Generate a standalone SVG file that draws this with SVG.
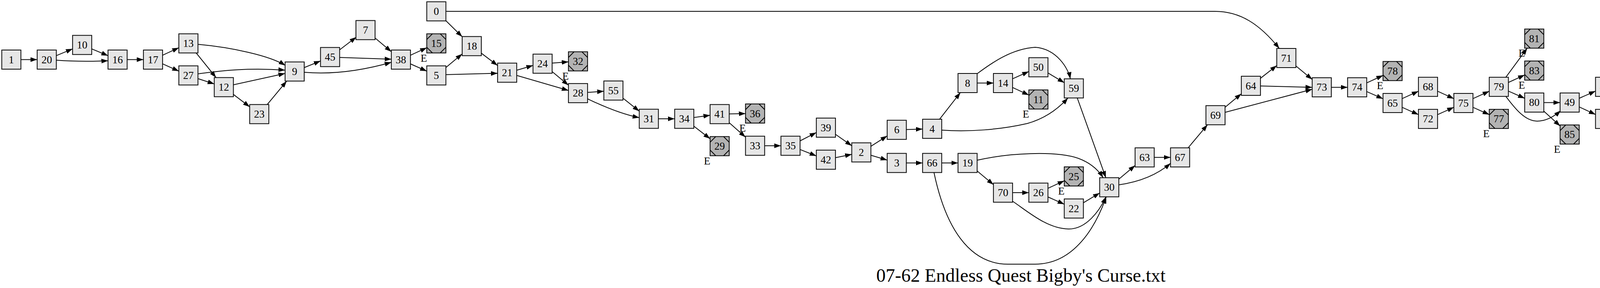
<svg xmlns="http://www.w3.org/2000/svg" width="5227" height="737" viewBox="0 0 5227 737">
<style>
.b{fill:#e6e6e6;stroke:#000;stroke-width:2}
.m{fill:#b3b3b3;stroke:#000;stroke-width:2}
.d{fill:none;stroke:#000;stroke-width:2}
text{font-family:"Liberation Serif","Times New Roman",serif;font-size:27px;text-anchor:middle;fill:#000}
.title{font-size:48px}
#edges path{fill:none;stroke:#000;stroke-width:2;marker-end:url(#ah)}
</style>
<defs>
<marker id="ah" viewBox="0 0 17 12" refX="17" refY="6" markerWidth="17" markerHeight="12" markerUnits="userSpaceOnUse" orient="auto"><path d="M0,0 L17,6 L0,12 Z" fill="#000"/></marker>
<g id="box"><rect class="b" x="-24.5" y="-24.5" width="49" height="49"/></g>
<g id="msq"><rect class="m" x="-24.5" y="-24.5" width="49" height="49"/><path class="d" d="M-10,-24.5L-24.5,-10M10,-24.5L24.5,-10M-24.5,10L-10,24.5M24.5,10L10,24.5"/></g>
</defs>
<rect width="5227" height="737" fill="#fff"/>
<g id="edges">
<path d="M53.5,152.5 L95.2,152.5"/>
<path d="M144.2,142.4 L185.8,125.1"/>
<path d="M144.2,154 C190,157.5 230,157.5 276.5,155.5"/>
<path d="M234.8,125.1 L276.5,142.4"/>
<path d="M325.5,152.5 L367.2,152.5"/>
<path d="M416.2,141.3 L457.8,122.2"/>
<path d="M416.2,163.4 L457.8,182"/>
<path d="M507,113.5 C590,121 690,142 730.5,167.5"/>
<path d="M502.2,135.5 L553.1,198.5"/>
<path d="M507,189 C570,180 640,173 729.8,179.5"/>
<path d="M506.8,201.2 L548.5,214.8"/>
<path d="M597.5,217 L729.8,188"/>
<path d="M597.5,241.6 L639.2,273.4"/>
<path d="M684.1,267.5 L733.9,207.5"/>
<path d="M778.8,173 L820.5,156"/>
<path d="M778.8,185 C860,192 940,177 1001.8,159.5"/>
<path d="M869.5,127.5 L912,95"/>
<path d="M869.5,147 L1001.8,151.5"/>
<path d="M960.2,97.3 L1001.8,132.2"/>
<path d="M1050.8,141.3 L1092.5,122.2"/>
<path d="M1050.8,163.5 L1092.5,182"/>
<path d="M1141.5,53 L1183.2,94"/>
<path d="M1141.5,29 L3110,29 C3175,29 3225,62 3275,124"/>
<path d="M1141.5,172.7 L1183.2,138"/>
<path d="M1141.5,191 L1273.8,187.5"/>
<path d="M1232.2,136.1 L1273.8,167.7"/>
<path d="M1322.8,179.8 L1364.5,167.5"/>
<path d="M1322.8,193 L1455.2,231.5"/>
<path d="M1413.5,161.4 L1455.2,158.3"/>
<path d="M1413.5,183.2 L1455.2,218"/>
<path d="M1504.2,236.5 L1545.8,233.5"/>
<path d="M1504.2,253 C1540,270 1590,292 1636.5,301"/>
<path d="M1594.8,251.2 L1636.5,284.5"/>
<path d="M1685.5,304 L1727.2,304"/>
<path d="M1776.2,300.7 L1817.8,295"/>
<path d="M1776.2,322.9 L1817.8,355.1"/>
<path d="M1866.8,291.4 L1908.5,290.8"/>
<path d="M1866.8,313.9 L1908.5,351"/>
<path d="M1957.5,373 L1999.2,373"/>
<path d="M2048.2,360.5 L2089.8,339.2"/>
<path d="M2048.2,382.6 L2089.8,399"/>
<path d="M2138.8,343.8 L2180.5,372.9"/>
<path d="M2138.8,403.6 L2180.5,395"/>
<path d="M2229.5,374.4 L2271.2,347.8"/>
<path d="M2229.5,397.3 L2271.2,409.7"/>
<path d="M2320.2,331.5 L2361.8,330.3"/>
<path d="M2320.2,417 L2361.8,417"/>
<path d="M2405.3,305.1 L2458.5,237"/>
<path d="M2410.8,333 C2480,338 2560,332 2630,316 C2680,302 2712,275 2734,250.7"/>
<path d="M2501.5,212.5 L2543.2,212.5"/>
<path d="M2501,189 C2540,160 2590,125 2650,121 C2705,125 2735,175 2740,201.7"/>
<path d="M2410.8,417 L2452.5,417"/>
<path d="M2391,441.5 C2420,580 2480,676 2580,676 L2650,676 C2750,676 2805,580 2832,503.7"/>
<path d="M2501.5,437.5 L2543.2,472.5"/>
<path d="M2501.5,410 C2580,392 2700,385 2760,405 C2790,416 2810,432 2824,454.7"/>
<path d="M2592.2,201.6 L2633.8,183"/>
<path d="M2592.2,223.9 L2633.8,243.2"/>
<path d="M2682.8,186.7 L2724.5,211.6"/>
<path d="M2757.8,250.7 L2830.9,454.7"/>
<path d="M2592.2,493 L2633.8,493"/>
<path d="M2592.2,515 C2630,540 2680,585 2735,586 C2780,587 2815,540 2831,503.7"/>
<path d="M2682.8,481.8 L2724.5,462.7"/>
<path d="M2682.8,504 L2724.5,522.6"/>
<path d="M2773.5,518.9 L2815.2,493.9"/>
<path d="M2864.2,458.6 L2905.8,423.4"/>
<path d="M2864.2,473 C2920,465 2965,445 2996.5,418"/>
<path d="M2954.8,402.8 L2996.5,402.8"/>
<path d="M3041.6,378.3 L3091.1,319.3"/>
<path d="M3136.2,274.5 L3177.8,239.9"/>
<path d="M3136.2,287.5 L3359.2,228.5"/>
<path d="M3226.8,200.4 L3268.5,167.7"/>
<path d="M3226.8,220 L3359.2,223.5"/>
<path d="M3317.5,168.7 L3359.2,203.2"/>
<path d="M3408.2,223.4 L3449.8,223.4"/>
<path d="M3498.8,212.2 L3540.5,193"/>
<path d="M3498.8,234.3 L3540.5,252.7"/>
<path d="M3589.5,252.4 L3631.2,233.4"/>
<path d="M3589.5,274.6 L3631.2,293.3"/>
<path d="M3680.2,233.4 L3721.8,252.4"/>
<path d="M3680.2,293.3 L3721.8,274.6"/>
<path d="M3770.8,252.4 L3812.5,233.4"/>
<path d="M3770.8,274.6 L3812.5,293.3"/>
<path d="M3855,197.7 L3909.7,123.3"/>
<path d="M3861.5,211 L3903.2,191.8"/>
<path d="M3861.5,233.1 L3903.2,251.5"/>
<path d="M3855,246.7 C3880,280 3905,310 3935,310 C3960,310 3982,295 3995.5,283"/>
<path d="M3952.2,262.4 L3993.8,262.4"/>
<path d="M3952.2,284.5 L3994,322.5"/>
<path d="M4042.8,251.5 L4084.5,233.1"/>
<path d="M4042.8,273.7 L4084.5,293"/>
<path d="M4133.5,200.1 L4175.2,162.3"/>
<path d="M4133.5,222.2 L4175.2,222.2"/>
<path d="M4224.2,162.3 L4265.8,200.1"/>
<path d="M4224.2,222.2 L4265.8,222.2"/>
<path d="M4133.5,304.3 L4175.2,304.3"/>
<path d="M4224.2,304.3 L4265.8,304.3"/>
<path d="M4314.8,304.3 L4356.5,304.3"/>
<path d="M4405.5,293 L4447.2,273.7"/>
<path d="M4405.5,315.2 L4447.2,333.6"/>
<path d="M4496.2,273.7 L4537.8,293"/>
<path d="M4496.2,333.6 L4537.8,315.2"/>
<path d="M4586.8,304.3 L4628.5,304.3"/>
<path d="M4677.5,293 L4719.2,273.7"/>
<path d="M4677.5,315.2 L4719.2,333.6"/>
<path d="M4768.2,273.7 L4809.8,293"/>
<path d="M4768.2,333.6 L4809.8,315.2"/>
<path d="M4858.8,293 L4900.5,273.7"/>
<path d="M4858.8,315.2 L4900.5,333.6"/>
<path d="M4949.5,273.7 L4991.2,293"/>
<path d="M4949.5,333.6 L4991.2,315.2"/>
<path d="M5040.2,304.3 L5081.8,304.3"/>
<path d="M5130.8,293 L5172.5,273.7"/>
<path d="M5130.8,315.2 L5172.5,333.6"/>
</g>
<g id="nodes">
<g id="n1" transform="translate(29,152.5)"><use href="#box"/><text y="9">1</text></g>
<g id="n20" transform="translate(119.7,152.5)"><use href="#box"/><text y="9">20</text></g>
<g id="n10" transform="translate(210.3,115)"><use href="#box"/><text y="9">10</text></g>
<g id="n16" transform="translate(301,152.5)"><use href="#box"/><text y="9">16</text></g>
<g id="n17" transform="translate(391.7,152.5)"><use href="#box"/><text y="9">17</text></g>
<g id="n13" transform="translate(482.3,111)"><use href="#box"/><text y="9">13</text></g>
<g id="n27" transform="translate(482.3,193)"><use href="#box"/><text y="9">27</text></g>
<g id="n12" transform="translate(573,223)"><use href="#box"/><text y="9">12</text></g>
<g id="n23" transform="translate(663.7,292)"><use href="#box"/><text y="9">23</text></g>
<g id="n9" transform="translate(754.3,183)"><use href="#box"/><text y="9">9</text></g>
<g id="n45" transform="translate(845,146)"><use href="#box"/><text y="9">45</text></g>
<g id="n7" transform="translate(935.7,77)"><use href="#box"/><text y="9">7</text></g>
<g id="n38" transform="translate(1026.3,152.5)"><use href="#box"/><text y="9">38</text></g>
<g id="n0" transform="translate(1117,29)"><use href="#box"/><text y="9">0</text></g>
<g id="n15" transform="translate(1117,111)"><use href="#msq"/><text y="9">15</text><text x="-32" y="46.5">E</text></g>
<g id="n5" transform="translate(1117,193)"><use href="#box"/><text y="9">5</text></g>
<g id="n18" transform="translate(1207.7,118)"><use href="#box"/><text y="9">18</text></g>
<g id="n21" transform="translate(1298.3,186)"><use href="#box"/><text y="9">21</text></g>
<g id="n24" transform="translate(1389,163)"><use href="#box"/><text y="9">24</text></g>
<g id="n32" transform="translate(1479.7,157)"><use href="#msq"/><text y="9">32</text><text x="-32" y="46.5">E</text></g>
<g id="n28" transform="translate(1479.7,238.3)"><use href="#box"/><text y="9">28</text></g>
<g id="n55" transform="translate(1570.3,231.7)"><use href="#box"/><text y="9">55</text></g>
<g id="n31" transform="translate(1661,304)"><use href="#box"/><text y="9">31</text></g>
<g id="n34" transform="translate(1751.7,304)"><use href="#box"/><text y="9">34</text></g>
<g id="n41" transform="translate(1842.3,292)"><use href="#box"/><text y="9">41</text></g>
<g id="n29" transform="translate(1842.3,374)"><use href="#msq"/><text y="9">29</text><text x="-32" y="46.5">E</text></g>
<g id="n36" transform="translate(1933,290.5)"><use href="#msq"/><text y="9">36</text><text x="-32" y="46.5">E</text></g>
<g id="n33" transform="translate(1933,373)"><use href="#box"/><text y="9">33</text></g>
<g id="n35" transform="translate(2023.7,373)"><use href="#box"/><text y="9">35</text></g>
<g id="n39" transform="translate(2114.3,326.7)"><use href="#box"/><text y="9">39</text></g>
<g id="n42" transform="translate(2114.3,408.7)"><use href="#box"/><text y="9">42</text></g>
<g id="n2" transform="translate(2205,390)"><use href="#box"/><text y="9">2</text></g>
<g id="n6" transform="translate(2295.7,332.2)"><use href="#box"/><text y="9">6</text></g>
<g id="n3" transform="translate(2295.7,417)"><use href="#box"/><text y="9">3</text></g>
<g id="n4" transform="translate(2386.3,329.6)"><use href="#box"/><text y="9">4</text></g>
<g id="n66" transform="translate(2386.3,417)"><use href="#box"/><text y="9">66</text></g>
<g id="n8" transform="translate(2477,212.5)"><use href="#box"/><text y="9">8</text></g>
<g id="n19" transform="translate(2477,417)"><use href="#box"/><text y="9">19</text></g>
<g id="n14" transform="translate(2567.7,212.5)"><use href="#box"/><text y="9">14</text></g>
<g id="n70" transform="translate(2567.7,493)"><use href="#box"/><text y="9">70</text></g>
<g id="n50" transform="translate(2658.3,172.1)"><use href="#box"/><text y="9">50</text></g>
<g id="n11" transform="translate(2658.3,254.6)"><use href="#msq"/><text y="9">11</text><text x="-32" y="46.5">E</text></g>
<g id="n26" transform="translate(2658.3,493)"><use href="#box"/><text y="9">26</text></g>
<g id="n59" transform="translate(2749,226.2)"><use href="#box"/><text y="9">59</text></g>
<g id="n25" transform="translate(2749,451.5)"><use href="#msq"/><text y="9">25</text><text x="-32" y="46.5">E</text></g>
<g id="n22" transform="translate(2749,533.6)"><use href="#box"/><text y="9">22</text></g>
<g id="n30" transform="translate(2839.7,479.2)"><use href="#box"/><text y="9">30</text></g>
<g id="n63" transform="translate(2930.3,402.8)"><use href="#box"/><text y="9">63</text></g>
<g id="n67" transform="translate(3021,402.8)"><use href="#box"/><text y="9">67</text></g>
<g id="n69" transform="translate(3111.7,294.8)"><use href="#box"/><text y="9">69</text></g>
<g id="n64" transform="translate(3202.3,219.6)"><use href="#box"/><text y="9">64</text></g>
<g id="n71" transform="translate(3293,148.5)"><use href="#box"/><text y="9">71</text></g>
<g id="n73" transform="translate(3383.7,223.4)"><use href="#box"/><text y="9">73</text></g>
<g id="n74" transform="translate(3474.3,223.4)"><use href="#box"/><text y="9">74</text></g>
<g id="n78" transform="translate(3565,181.8)"><use href="#msq"/><text y="9">78</text><text x="-32" y="46.5">E</text></g>
<g id="n65" transform="translate(3565,263.6)"><use href="#box"/><text y="9">65</text></g>
<g id="n68" transform="translate(3655.7,222.2)"><use href="#box"/><text y="9">68</text></g>
<g id="n72" transform="translate(3655.7,304.3)"><use href="#box"/><text y="9">72</text></g>
<g id="n75" transform="translate(3746.3,263.6)"><use href="#box"/><text y="9">75</text></g>
<g id="n79" transform="translate(3837,222.2)"><use href="#box"/><text y="9">79</text></g>
<g id="n77" transform="translate(3837,304.3)"><use href="#msq"/><text y="9">77</text><text x="-32" y="46.5">E</text></g>
<g id="n81" transform="translate(3927.7,98.8)"><use href="#msq"/><text y="9">81</text><text x="-32" y="46.5">E</text></g>
<g id="n83" transform="translate(3927.7,180.6)"><use href="#msq"/><text y="9">83</text><text x="-32" y="46.5">E</text></g>
<g id="n80" transform="translate(3927.7,262.4)"><use href="#box"/><text y="9">80</text></g>
<g id="n49" transform="translate(4018.3,262.4)"><use href="#box"/><text y="9">49</text></g>
<g id="n85" transform="translate(4018.3,344.2)"><use href="#msq"/><text y="9">85</text><text x="-32" y="46.5">E</text></g>
<g id="n47" transform="translate(4109,222.2)"><use href="#box"/><text y="9">47</text></g>
<g id="n46" transform="translate(4109,304.3)"><use href="#box"/><text y="9">46</text></g>
<g id="n51" transform="translate(4199.7,140.2)"><use href="#box"/><text y="9">51</text></g>
<g id="n54" transform="translate(4199.7,222.2)"><use href="#box"/><text y="9">54</text></g>
<g id="n62" transform="translate(4199.7,304.3)"><use href="#box"/><text y="9">62</text></g>
<g id="n58" transform="translate(4290.3,222.2)"><use href="#msq"/><text y="9">58</text><text x="-32" y="46.5">E</text></g>
<g id="n48" transform="translate(4290.3,304.3)"><use href="#box"/><text y="9">48</text></g>
<g id="n44" transform="translate(4381,304.3)"><use href="#box"/><text y="9">44</text></g>
<g id="n40" transform="translate(4471.7,262.4)"><use href="#box"/><text y="9">40</text></g>
<g id="n43" transform="translate(4471.7,344.5)"><use href="#box"/><text y="9">43</text></g>
<g id="n37" transform="translate(4562.3,304.3)"><use href="#box"/><text y="9">37</text></g>
<g id="n84" transform="translate(4653,304.3)"><use href="#box"/><text y="9">84</text></g>
<g id="n56" transform="translate(4743.7,262.4)"><use href="#box"/><text y="9">56</text></g>
<g id="n60" transform="translate(4743.7,344.5)"><use href="#box"/><text y="9">60</text></g>
<g id="n53" transform="translate(4834.3,304.3)"><use href="#box"/><text y="9">53</text></g>
<g id="n57" transform="translate(4925,262.4)"><use href="#box"/><text y="9">57</text></g>
<g id="n52" transform="translate(4925,344.5)"><use href="#box"/><text y="9">52</text></g>
<g id="n61" transform="translate(5015.7,304.3)"><use href="#box"/><text y="9">61</text></g>
<g id="n76" transform="translate(5106.3,304.3)"><use href="#box"/><text y="9">76</text></g>
<g id="n82" transform="translate(5197,262.4)"><use href="#msq"/><text y="9">82</text><text x="-32" y="46.5">E</text></g>
<g id="n86" transform="translate(5197,344.5)"><use href="#msq"/><text y="9">86</text><text x="-32" y="46.5">E</text></g>
</g>
<text class="title" x="2613.5" y="721">07-62 Endless Quest Bigby's Curse.txt</text>
</svg>
